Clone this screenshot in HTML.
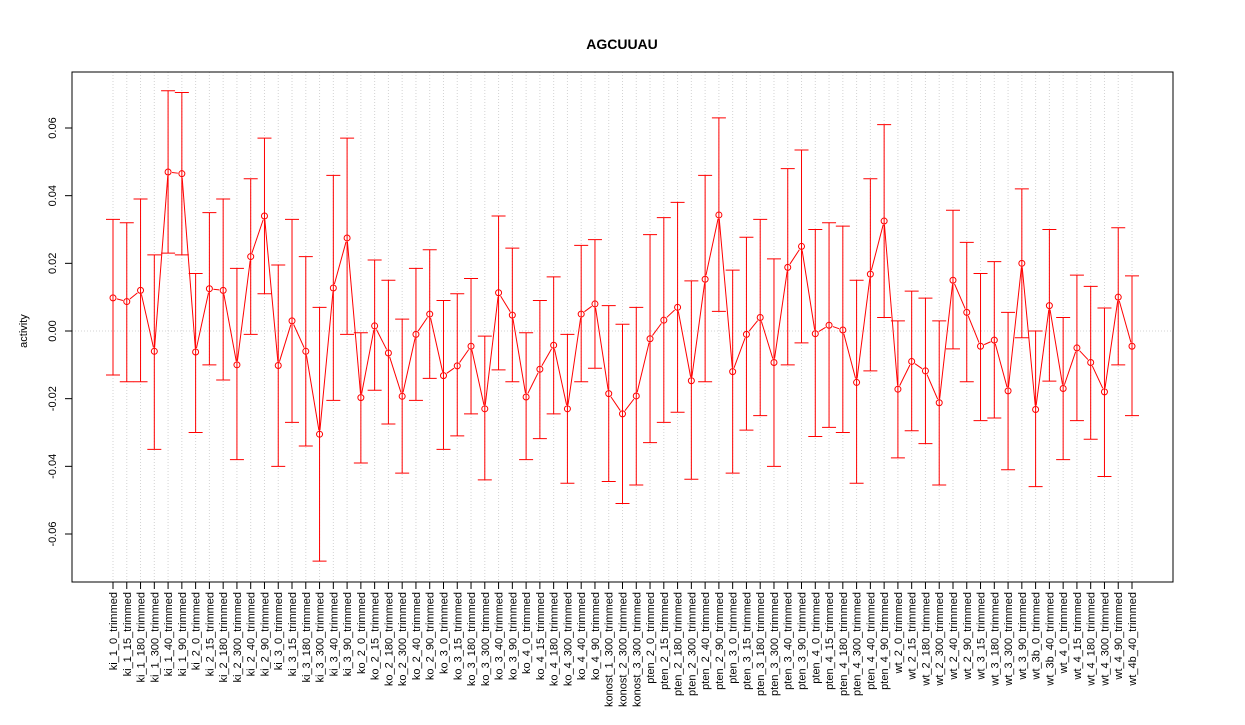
<!DOCTYPE html>
<html><head><meta charset="utf-8"><style>
body{margin:0;background:#fff;font-family:"Liberation Sans",sans-serif}
</style></head><body>
<svg id="chart" width="1245" height="720" xmlns="http://www.w3.org/2000/svg" font-family="Liberation Sans, sans-serif">
<rect width="1245" height="720" fill="#fff"/>
<text x="622" y="49" text-anchor="middle" font-size="14" font-weight="bold">AGCUUAU</text>
<text transform="translate(27,331) rotate(-90)" text-anchor="middle" font-size="11">activity</text>
<g id="grid"></g><g id="marks"></g><g id="axes"></g>
<rect x="72" y="72" width="1101" height="510" fill="none" stroke="#000"/>
</svg>
<script>
const categories=["ki_1_0_trimmed","ki_1_15_trimmed","ki_1_180_trimmed","ki_1_300_trimmed","ki_1_40_trimmed","ki_1_90_trimmed","ki_2_0_trimmed","ki_2_15_trimmed","ki_2_180_trimmed","ki_2_300_trimmed","ki_2_40_trimmed","ki_2_90_trimmed","ki_3_0_trimmed","ki_3_15_trimmed","ki_3_180_trimmed","ki_3_300_trimmed","ki_3_40_trimmed","ki_3_90_trimmed","ko_2_0_trimmed","ko_2_15_trimmed","ko_2_180_trimmed","ko_2_300_trimmed","ko_2_40_trimmed","ko_2_90_trimmed","ko_3_0_trimmed","ko_3_15_trimmed","ko_3_180_trimmed","ko_3_300_trimmed","ko_3_40_trimmed","ko_3_90_trimmed","ko_4_0_trimmed","ko_4_15_trimmed","ko_4_180_trimmed","ko_4_300_trimmed","ko_4_40_trimmed","ko_4_90_trimmed","konost_1_300_trimmed","konost_2_300_trimmed","konost_3_300_trimmed","pten_2_0_trimmed","pten_2_15_trimmed","pten_2_180_trimmed","pten_2_300_trimmed","pten_2_40_trimmed","pten_2_90_trimmed","pten_3_0_trimmed","pten_3_15_trimmed","pten_3_180_trimmed","pten_3_300_trimmed","pten_3_40_trimmed","pten_3_90_trimmed","pten_4_0_trimmed","pten_4_15_trimmed","pten_4_180_trimmed","pten_4_300_trimmed","pten_4_40_trimmed","pten_4_90_trimmed","wt_2_0_trimmed","wt_2_15_trimmed","wt_2_180_trimmed","wt_2_300_trimmed","wt_2_40_trimmed","wt_2_90_trimmed","wt_3_15_trimmed","wt_3_180_trimmed","wt_3_300_trimmed","wt_3_90_trimmed","wt_3b_0_trimmed","wt_3b_40_trimmed","wt_4_0_trimmed","wt_4_15_trimmed","wt_4_180_trimmed","wt_4_300_trimmed","wt_4_90_trimmed","wt_4b_40_trimmed"];
const values=[0.0098,0.0087,0.012,-0.006,0.047,0.0465,-0.0062,0.0125,0.012,-0.010,0.022,0.034,-0.0102,0.003,-0.006,-0.0305,0.0127,0.0275,-0.0197,0.0015,-0.0065,-0.0193,-0.001,0.005,-0.0132,-0.0103,-0.0045,-0.023,0.0113,0.0047,-0.0195,-0.0113,-0.0042,-0.023,0.005,0.008,-0.0185,-0.0245,-0.0192,-0.0023,0.0032,0.007,-0.0147,0.0153,0.0343,-0.012,-0.001,0.004,-0.0093,0.0188,0.025,-0.0008,0.0017,0.0003,-0.0152,0.0168,0.0325,-0.0172,-0.009,-0.0118,-0.0212,0.015,0.0055,-0.0045,-0.0027,-0.0177,0.02,-0.0232,0.0075,-0.017,-0.005,-0.0093,-0.018,0.010,-0.0045];
const upper=[0.033,0.032,0.039,0.0225,0.071,0.0705,0.017,0.035,0.039,0.0185,0.045,0.057,0.0195,0.033,0.022,0.007,0.046,0.057,-0.0005,0.021,0.015,0.0035,0.0185,0.024,0.009,0.011,0.0155,-0.0015,0.034,0.0245,-0.0005,0.009,0.016,-0.001,0.0253,0.027,0.0075,0.002,0.007,0.0285,0.0335,0.038,0.0148,0.046,0.063,0.018,0.0277,0.033,0.0213,0.048,0.0535,0.030,0.032,0.031,0.015,0.045,0.061,0.003,0.0118,0.0097,0.003,0.0357,0.0262,0.017,0.0205,0.0055,0.042,0.0,0.030,0.004,0.0165,0.0132,0.0068,0.0305,0.0163];
const lower=[-0.013,-0.015,-0.015,-0.035,0.023,0.0225,-0.030,-0.010,-0.0145,-0.038,-0.001,0.011,-0.040,-0.027,-0.034,-0.068,-0.0205,-0.001,-0.039,-0.0175,-0.0275,-0.042,-0.0205,-0.014,-0.035,-0.031,-0.0245,-0.044,-0.0115,-0.015,-0.038,-0.0318,-0.0245,-0.045,-0.015,-0.011,-0.0445,-0.051,-0.0455,-0.033,-0.027,-0.024,-0.0438,-0.015,0.0058,-0.042,-0.0293,-0.025,-0.040,-0.010,-0.0035,-0.0312,-0.0285,-0.030,-0.045,-0.0118,0.004,-0.0375,-0.0295,-0.0333,-0.0455,-0.0053,-0.015,-0.0265,-0.0257,-0.041,-0.002,-0.046,-0.0148,-0.038,-0.0265,-0.032,-0.043,-0.010,-0.025];
const yTicks=[-0.06,-0.04,-0.02,0.00,0.02,0.04,0.06];
const yTickLabels=["-0.06","-0.04","-0.02","0.00","0.02","0.04","0.06"];
const NS="http://www.w3.org/2000/svg";
const x=i=>113+i*(1132-113)/(categories.length-1);
const y=v=>331-v*(203/0.06);
function mk(tag,attrs,parent){const e=document.createElementNS(NS,tag);for(const k in attrs)e.setAttribute(k,attrs[k]);parent.appendChild(e);return e;}
const grid=document.getElementById('grid'),marks=document.getElementById('marks'),axes=document.getElementById('axes');
categories.forEach((c,i)=>{
  const g=mk('line',{x1:x(i),x2:x(i),y1:72,y2:582,stroke:'#d3d3d3','stroke-dasharray':'1,2'},grid);
  
  
  const t=mk('line',{x1:x(i),x2:x(i),y1:582,y2:589,stroke:'#000'},axes);
  
  
  const l=mk('text',{transform:`translate(${x(i)+4},592) rotate(-90)`,'text-anchor':'end','font-size':'11'},axes);
  l.textContent=c;
  
  
});
const z=mk('line',{x1:72,x2:1173,y1:y(0),y2:y(0),stroke:'#d3d3d3','stroke-dasharray':'1,2'},grid);


yTicks.forEach((v,i)=>{
  const t=mk('line',{x1:65,x2:72,y1:y(v),y2:y(v),stroke:'#000'},axes);
  
  
  const l=mk('text',{transform:`translate(56,${y(v)}) rotate(-90)`,'text-anchor':'middle','font-size':'11'},axes);
  l.textContent=yTickLabels[i];
  
  
});
categories.forEach((c,i)=>{
  const b=mk('path',{d:`M${x(i)},${y(upper[i])}V${y(lower[i])}M${x(i)-7},${y(upper[i])}H${x(i)+7}M${x(i)-7},${y(lower[i])}H${x(i)+7}`,stroke:'#ff0000',fill:'none'},marks);
  
  
});
for(let i=0;i<values.length-1;i++){
  const x1=x(i),y1=y(values[i]),x2=x(i+1),y2=y(values[i+1]);
  const d=Math.hypot(x2-x1,y2-y1),ux=(x2-x1)/d,uy=(y2-y1)/d;
  if(d>8){
    const s=mk('line',{x1:x1+ux*4,y1:y1+uy*4,x2:x2-ux*4,y2:y2-uy*4,stroke:'#ff0000'},marks);
    
    
  }
}
values.forEach((v,i)=>{
  const p=mk('circle',{cx:x(i),cy:y(v),r:3,fill:'none',stroke:'#ff0000'},marks);
  
  
});
</script>
</body></html>
